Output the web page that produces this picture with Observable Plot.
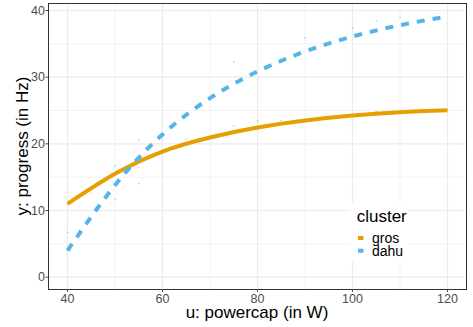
<!DOCTYPE html>
<html><head><meta charset="utf-8">
<script src="https://cdn.jsdelivr.net/npm/d3@7"></script>
<script src="https://cdn.jsdelivr.net/npm/@observablehq/plot@0.6"></script>
<style>
body{margin:0;background:#fff}
svg{font-family:"Liberation Sans",Arial,Helvetica,sans-serif}
</style>
</head><body><div id="chart"></div>
<script>
const clusters = ["gros", "dahu"];
const colors = ["#E69F00", "#56B4E9"];
const curveU = [40, 50, 60, 70, 80, 90, 100, 110, 120];
const grosFit = [11.0, 15.5, 18.85, 20.95, 22.45, 23.5, 24.25, 24.75, 25.05];
const dahuFit = [4.0, 13.8, 21.4, 26.85, 30.85, 33.85, 36.1, 37.8, 39.1];
const grosPtU = [45, 55, 65, 75, 80, 85, 105];
const grosPtV = [12.6, 16.4, 20.7, 22.7, 23.45, 23.5, 24.85];
const dahuPtU = [40, 50, 50, 55, 55, 75, 90, 100, 105, 110];
const dahuPtV = [6.7, 16.7, 11.6, 20.6, 14.0, 32.25, 35.85, 37.35, 38.45, 38.9];
const xTicks = [40, 60, 80, 100, 120];
const xMinor = [50, 70, 90, 110];
const yTicks = [0, 10, 20, 30, 40];
const yMinor = [5, 15, 25, 35];
const xTitle = "u: powercap (in W)";
const yTitle = "y: progress (in Hz)";
const legendTitle = "cluster";

const grosLine = curveU.map((u, i) => ({u, v: grosFit[i]}));
const dahuLine = curveU.map((u, i) => ({u, v: dahuFit[i]}));
const grosPts = grosPtU.map((u, i) => ({u, v: grosPtV[i]}));
const dahuPts = dahuPtU.map((u, i) => ({u, v: dahuPtV[i]}));

const W = 473, H = 327;
const plot = Plot.plot({
  width: W, height: H,
  marginLeft: 48, marginRight: 7, marginTop: 3, marginBottom: 38,
  x: {domain: [36, 124]},
  y: {domain: [-1.845, 41.05]},
  style: {background: "#fff"},
  marks: [
    Plot.ruleX(xMinor, {stroke: "#EBEBEB", strokeWidth: 0.6}),
    Plot.ruleY(yMinor, {stroke: "#EBEBEB", strokeWidth: 0.6}),
    Plot.ruleX(xTicks, {stroke: "#EBEBEB", strokeWidth: 1.2}),
    Plot.ruleY(yTicks, {stroke: "#EBEBEB", strokeWidth: 1.2}),
    Plot.dot(grosPts, {x: "u", y: "v", r: 0.8, fill: colors[0], fillOpacity: 0.6}),
    Plot.dot(dahuPts, {x: "u", y: "v", r: 0.8, fill: colors[1], fillOpacity: 0.6}),
    Plot.line(grosLine, {x: "u", y: "v", stroke: colors[0], strokeWidth: 4, curve: "natural", strokeLinecap: "butt"}),
    Plot.line(dahuLine, {x: "u", y: "v", stroke: colors[1], strokeWidth: 4, curve: "natural", strokeDasharray: "8,8", strokeLinecap: "butt"}),
    Plot.frame({stroke: "#333333", strokeWidth: 1}),
    Plot.axisX(xTicks, {tickSize: 3, tickPadding: 2, fontSize: 12.5, color: "#4D4D4D", label: null}),
    Plot.axisY(yTicks, {tickSize: 2.5, tickPadding: 1, fontSize: 12.5, color: "#4D4D4D", label: null})
  ]
});
document.getElementById("chart").appendChild(plot);

const svg = d3.select(plot);
function txt(sel, x, y, size, anchor, s) {
  return sel.append("text").attr("x", x).attr("y", y)
    .style("font-size", size + "px").style("text-anchor", anchor).style("fill", "#000").text(s);
}
txt(svg, 257, 318, 17, "middle", xTitle);
svg.append("text").attr("transform", "translate(28,146) rotate(-90)")
  .style("text-anchor", "middle").style("font-size", "17px").style("fill", "#000").text(yTitle);

const lg = svg.append("g");
lg.append("rect").attr("x", 350).attr("y", 203).attr("width", 58).attr("height", 59).attr("fill", "#fff");
txt(lg, 356.7, 221.5, 17, "start", legendTitle);
clusters.forEach((c, i) => {
  lg.append("rect").attr("x", 358).attr("y", 236 + i * 12.7).attr("width", 5.5).attr("height", 4).attr("fill", colors[i]);
  txt(lg, 372, 243 + i * 12.7, 14, "start", c);
});
</script>
</body></html>
